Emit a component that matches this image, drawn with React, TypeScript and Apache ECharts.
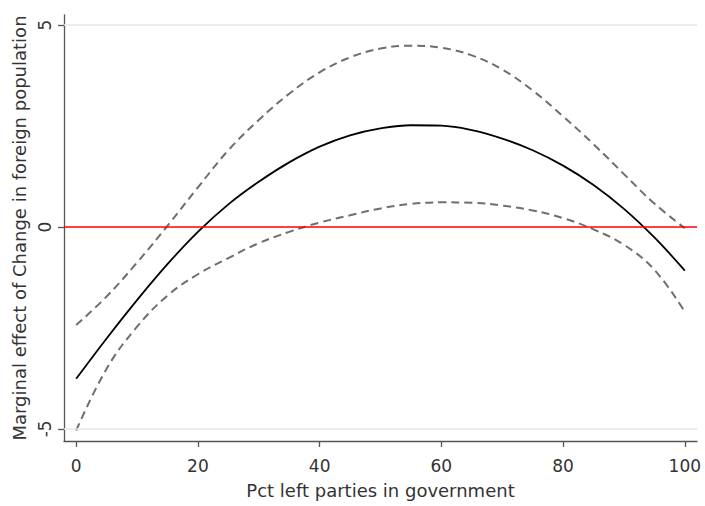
import React, { useEffect, useRef } from "react";
import * as echarts from "echarts";

const xValues = [0, 5, 10, 15, 20, 25, 30, 35, 40, 45, 50, 55, 60, 65, 70, 75, 80, 85, 90, 95, 100];
const estimate = [-3.76, -2.76, -1.81, -0.92, -0.12, 0.56, 1.12, 1.6, 1.99, 2.27, 2.44, 2.52, 2.51, 2.4, 2.19, 1.9, 1.52, 1.04, 0.45, -0.26, -1.08];
const upperCI = [-2.43, -1.72, -0.88, 0.03, 0.98, 1.9, 2.65, 3.3, 3.83, 4.2, 4.42, 4.49, 4.44, 4.25, 3.9, 3.38, 2.74, 2.05, 1.31, 0.58, -0.03];
const lowerCI = [-5.04, -3.51, -2.47, -1.7, -1.17, -0.77, -0.4, -0.12, 0.11, 0.29, 0.46, 0.57, 0.61, 0.6, 0.53, 0.41, 0.22, -0.06, -0.44, -1.06, -2.1];
const xTicks = [0, 20, 40, 60, 80, 100];
const yTicks = [-5, 0, 5];
const xTitle = "Pct left parties in government";
const yTitle = "Marginal effect of Change in foreign population";

const FONT = "DejaVu Sans";
const TEXT = "#333333";

export default function App() {
  const ref = useRef<HTMLDivElement>(null);
  useEffect(() => {
    if (!ref.current) return;
    const chart = echarts.init(ref.current, null, { renderer: "svg" });
    const pairs = (ys: number[]) => xValues.map((x, i) => [x, ys[i]]);
    const dashed = { color: "#6e6e6e", width: 2, type: [8, 5] as any };
    chart.setOption({
      animation: false,
      backgroundColor: "#ffffff",
      grid: { left: 64, right: 8, top: 15, bottom: 65 },
      xAxis: {
        type: "value",
        min: -2,
        max: 102,
        name: xTitle,
        nameLocation: "middle",
        nameGap: 40,
        nameTextStyle: { fontFamily: FONT, fontSize: 18, color: TEXT },
        axisLine: { show: true, onZero: false, lineStyle: { color: "#555555", width: 1.3 } },
        axisTick: { show: true, length: 6, customValues: xTicks, lineStyle: { color: "#555555", width: 1.3 } },
        axisLabel: { customValues: xTicks, margin: 16, fontFamily: FONT, fontSize: 17, color: TEXT },
        splitLine: { show: false },
      },
      yAxis: {
        type: "value",
        min: -5.3,
        max: 5.25,
        name: yTitle,
        nameLocation: "middle",
        nameRotate: 90,
        nameGap: 33,
        nameTextStyle: { fontFamily: FONT, fontSize: 18, color: TEXT },
        axisLine: { show: true, onZero: false, lineStyle: { color: "#555555", width: 1.3 } },
        axisTick: { show: true, length: 6, customValues: yTicks, lineStyle: { color: "#555555", width: 1.3 } },
        axisLabel: { customValues: yTicks, rotate: 90, margin: 11, fontFamily: FONT, fontSize: 17, color: TEXT },
        splitLine: { show: false },
      },
      series: [
        {
          type: "line",
          data: [],
          silent: true,
          z: 1,
          markLine: {
            silent: true,
            symbol: "none",
            label: { show: false },
            animation: false,
            data: [
              { yAxis: yTicks[0], lineStyle: { color: "#e6e6e6", width: 1.5, type: "solid" } },
              { yAxis: yTicks[2], lineStyle: { color: "#e6e6e6", width: 1.5, type: "solid" } },
              { yAxis: 0, lineStyle: { color: "#ff0000", width: 1.5, type: "solid" } },
            ],
          },
        },
        {
          name: "Upper",
          type: "line",
          data: pairs(upperCI),
          showSymbol: false,
          smooth: 0.4,
          silent: true,
          z: 3,
          lineStyle: dashed,
        },
        {
          name: "Lower",
          type: "line",
          data: pairs(lowerCI),
          showSymbol: false,
          smooth: 0.4,
          silent: true,
          z: 3,
          lineStyle: dashed,
        },
        {
          name: "Estimate",
          type: "line",
          data: pairs(estimate),
          showSymbol: false,
          smooth: 0.4,
          silent: true,
          z: 4,
          lineStyle: { color: "#000000", width: 1.8 },
        },
      ],
    });
    return () => chart.dispose();
  }, []);
  return (
    <div
      ref={ref}
      style={{ position: "fixed", left: 0, top: 0, width: 705, height: 506, background: "#fff" }}
    />
  );
}
